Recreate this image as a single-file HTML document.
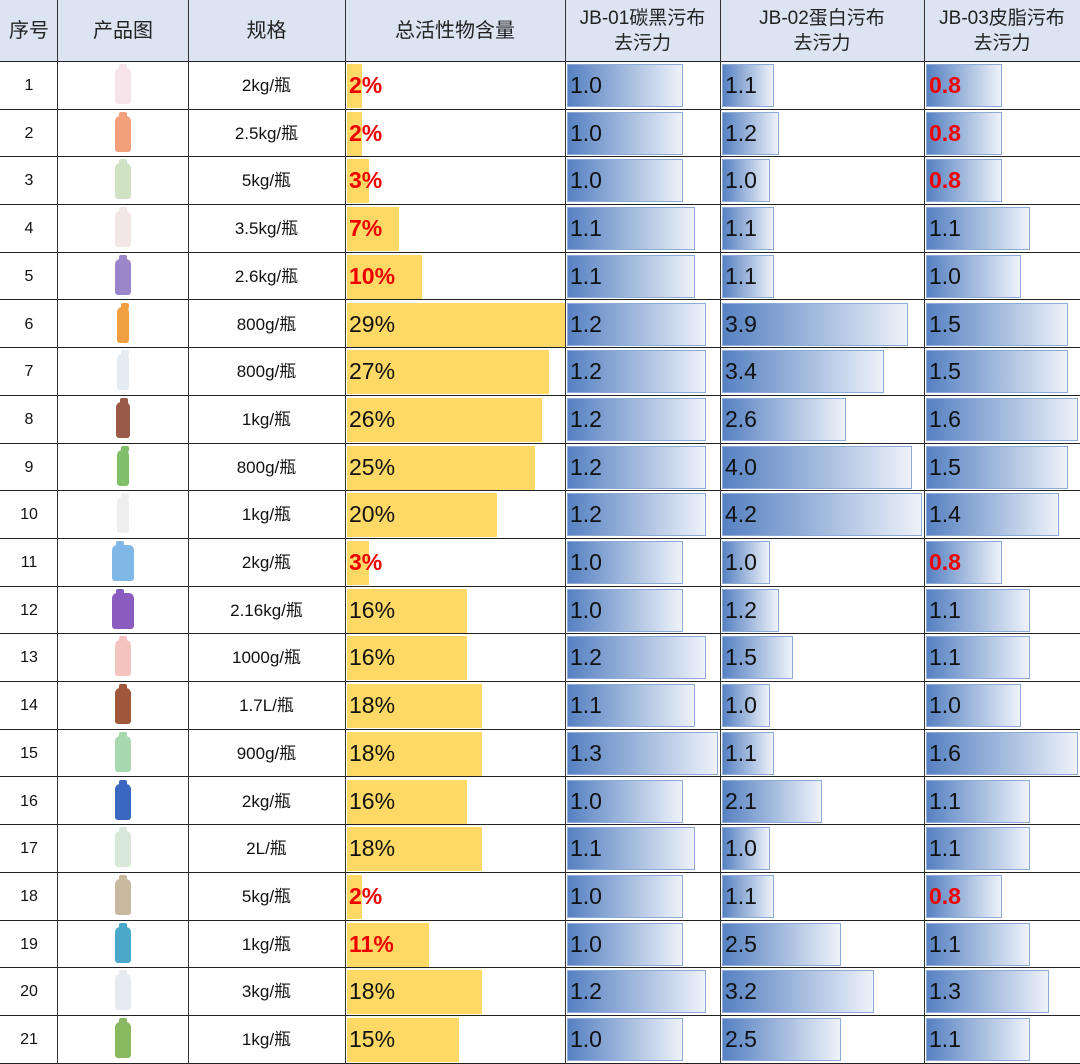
<!DOCTYPE html>
<html><head><meta charset="utf-8"><style>
*{margin:0;padding:0;box-sizing:border-box}
body{width:1080px;height:1064px;background:#fff;position:relative;overflow:hidden;font-family:"Liberation Sans","Noto Sans CJK SC",sans-serif;color:#111}
.h{position:absolute;top:0;height:62px;background:#dce4f2;border-bottom:1px solid #222;left:0;width:1080px}
.hc{position:absolute;top:0;height:62px;display:flex;align-items:center;justify-content:center;text-align:center;font-size:20px;line-height:24px;color:#222}
.hc span{display:block}
.hc.hs{font-size:19px;line-height:25px}
.v{position:absolute;top:0;height:1064px;width:1px;background:#333}
.r{position:absolute;left:0;width:1080px;height:47.7px;border-bottom:1px solid #222}
.r>div{position:absolute;top:0;height:100%}
.n{left:0;width:58px;text-align:center;font-size:16px;line-height:47px}
.s{left:188px;width:157px;text-align:center;font-size:17px;line-height:47px}
.bt{left:115px;top:6px!important;width:16px;height:36px!important;border-radius:5px 5px 3px 3px;}
.bt:before{content:"";position:absolute;left:4px;top:-4px;width:8px;height:6px;background:inherit;border-radius:2px}
.y{top:2px!important;height:44px!important;background:#ffd966}
.b{top:2px!important;height:43px!important;background:linear-gradient(to right,#5681c2,#a9bfe0 55%,#eef2f9);border:1px solid #8eaad6}
.t{top:0;font-size:23px;line-height:47px;color:#111}
.red{color:#e00;font-weight:bold}
</style></head><body>
<div class="h"></div>
<div class="hc" style="left:0;width:58px"><span>序号</span></div>
<div class="hc" style="left:58px;width:130px"><span>产品图</span></div>
<div class="hc" style="left:188px;width:157px"><span>规格</span></div>
<div class="hc" style="left:345px;width:220px"><span>总活性物含量</span></div>
<div class="hc hs" style="left:565px;width:155px"><span>JB-01碳黑污布<br>去污力</span></div>
<div class="hc hs" style="left:720px;width:204px"><span>JB-02蛋白污布<br>去污力</span></div>
<div class="hc hs" style="left:924px;width:156px"><span>JB-03皮脂污布<br>去污力</span></div>

<div class="r" style="top:62px"><div class="n">1</div><div class="bt" style="background:#f6e3ea"></div><div class="s">2kg/瓶</div><div class="y" style="left:347px;width:15px"></div><div class="t red" style="left:349px">2%</div><div class="b" style="left:567px;width:116px"></div><div class="t" style="left:570px">1.0</div><div class="b" style="left:722px;width:52px"></div><div class="t" style="left:725px">1.1</div><div class="b" style="left:926px;width:76px"></div><div class="t red" style="left:929px">0.8</div></div>
<div class="r" style="top:109.7px"><div class="n">2</div><div class="bt" style="background:#f2a07a"></div><div class="s">2.5kg/瓶</div><div class="y" style="left:347px;width:15px"></div><div class="t red" style="left:349px">2%</div><div class="b" style="left:567px;width:116px"></div><div class="t" style="left:570px">1.0</div><div class="b" style="left:722px;width:57px"></div><div class="t" style="left:725px">1.2</div><div class="b" style="left:926px;width:76px"></div><div class="t red" style="left:929px">0.8</div></div>
<div class="r" style="top:157.4px"><div class="n">3</div><div class="bt" style="background:#cfe3c4"></div><div class="s">5kg/瓶</div><div class="y" style="left:347px;width:22px"></div><div class="t red" style="left:349px">3%</div><div class="b" style="left:567px;width:116px"></div><div class="t" style="left:570px">1.0</div><div class="b" style="left:722px;width:48px"></div><div class="t" style="left:725px">1.0</div><div class="b" style="left:926px;width:76px"></div><div class="t red" style="left:929px">0.8</div></div>
<div class="r" style="top:205.1px"><div class="n">4</div><div class="bt" style="background:#f3e6e6"></div><div class="s">3.5kg/瓶</div><div class="y" style="left:347px;width:52px"></div><div class="t red" style="left:349px">7%</div><div class="b" style="left:567px;width:128px"></div><div class="t" style="left:570px">1.1</div><div class="b" style="left:722px;width:52px"></div><div class="t" style="left:725px">1.1</div><div class="b" style="left:926px;width:104px"></div><div class="t" style="left:929px">1.1</div></div>
<div class="r" style="top:252.8px"><div class="n">5</div><div class="bt" style="background:#9a86c8"></div><div class="s">2.6kg/瓶</div><div class="y" style="left:347px;width:75px"></div><div class="t red" style="left:349px">10%</div><div class="b" style="left:567px;width:128px"></div><div class="t" style="left:570px">1.1</div><div class="b" style="left:722px;width:52px"></div><div class="t" style="left:725px">1.1</div><div class="b" style="left:926px;width:95px"></div><div class="t" style="left:929px">1.0</div></div>
<div class="r" style="top:300.5px"><div class="n">6</div><div class="bt" style="background:#f0a040;width:12px;left:117px"></div><div class="s">800g/瓶</div><div class="y" style="left:347px;width:218px"></div><div class="t" style="left:349px">29%</div><div class="b" style="left:567px;width:139px"></div><div class="t" style="left:570px">1.2</div><div class="b" style="left:722px;width:186px"></div><div class="t" style="left:725px">3.9</div><div class="b" style="left:926px;width:142px"></div><div class="t" style="left:929px">1.5</div></div>
<div class="r" style="top:348.2px"><div class="n">7</div><div class="bt" style="background:#e4ecf2;width:12px;left:117px"></div><div class="s">800g/瓶</div><div class="y" style="left:347px;width:202px"></div><div class="t" style="left:349px">27%</div><div class="b" style="left:567px;width:139px"></div><div class="t" style="left:570px">1.2</div><div class="b" style="left:722px;width:162px"></div><div class="t" style="left:725px">3.4</div><div class="b" style="left:926px;width:142px"></div><div class="t" style="left:929px">1.5</div></div>
<div class="r" style="top:395.9px"><div class="n">8</div><div class="bt" style="background:#9a5a48;width:14px;left:116px"></div><div class="s">1kg/瓶</div><div class="y" style="left:347px;width:195px"></div><div class="t" style="left:349px">26%</div><div class="b" style="left:567px;width:139px"></div><div class="t" style="left:570px">1.2</div><div class="b" style="left:722px;width:124px"></div><div class="t" style="left:725px">2.6</div><div class="b" style="left:926px;width:152px"></div><div class="t" style="left:929px">1.6</div></div>
<div class="r" style="top:443.6px"><div class="n">9</div><div class="bt" style="background:#7fbf6a;width:12px;left:117px"></div><div class="s">800g/瓶</div><div class="y" style="left:347px;width:188px"></div><div class="t" style="left:349px">25%</div><div class="b" style="left:567px;width:139px"></div><div class="t" style="left:570px">1.2</div><div class="b" style="left:722px;width:190px"></div><div class="t" style="left:725px">4.0</div><div class="b" style="left:926px;width:142px"></div><div class="t" style="left:929px">1.5</div></div>
<div class="r" style="top:491.3px"><div class="n">10</div><div class="bt" style="background:#eeeeee;width:12px;left:117px"></div><div class="s">1kg/瓶</div><div class="y" style="left:347px;width:150px"></div><div class="t" style="left:349px">20%</div><div class="b" style="left:567px;width:139px"></div><div class="t" style="left:570px">1.2</div><div class="b" style="left:722px;width:200px"></div><div class="t" style="left:725px">4.2</div><div class="b" style="left:926px;width:133px"></div><div class="t" style="left:929px">1.4</div></div>
<div class="r" style="top:539px"><div class="n">11</div><div class="bt" style="background:#7fb8e6;width:22px;left:112px"></div><div class="s">2kg/瓶</div><div class="y" style="left:347px;width:22px"></div><div class="t red" style="left:349px">3%</div><div class="b" style="left:567px;width:116px"></div><div class="t" style="left:570px">1.0</div><div class="b" style="left:722px;width:48px"></div><div class="t" style="left:725px">1.0</div><div class="b" style="left:926px;width:76px"></div><div class="t red" style="left:929px">0.8</div></div>
<div class="r" style="top:586.7px"><div class="n">12</div><div class="bt" style="background:#8a5cc0;width:22px;left:112px"></div><div class="s">2.16kg/瓶</div><div class="y" style="left:347px;width:120px"></div><div class="t" style="left:349px">16%</div><div class="b" style="left:567px;width:116px"></div><div class="t" style="left:570px">1.0</div><div class="b" style="left:722px;width:57px"></div><div class="t" style="left:725px">1.2</div><div class="b" style="left:926px;width:104px"></div><div class="t" style="left:929px">1.1</div></div>
<div class="r" style="top:634.4px"><div class="n">13</div><div class="bt" style="background:#f4c4c0"></div><div class="s">1000g/瓶</div><div class="y" style="left:347px;width:120px"></div><div class="t" style="left:349px">16%</div><div class="b" style="left:567px;width:139px"></div><div class="t" style="left:570px">1.2</div><div class="b" style="left:722px;width:71px"></div><div class="t" style="left:725px">1.5</div><div class="b" style="left:926px;width:104px"></div><div class="t" style="left:929px">1.1</div></div>
<div class="r" style="top:682.1px"><div class="n">14</div><div class="bt" style="background:#a0583a"></div><div class="s">1.7L/瓶</div><div class="y" style="left:347px;width:135px"></div><div class="t" style="left:349px">18%</div><div class="b" style="left:567px;width:128px"></div><div class="t" style="left:570px">1.1</div><div class="b" style="left:722px;width:48px"></div><div class="t" style="left:725px">1.0</div><div class="b" style="left:926px;width:95px"></div><div class="t" style="left:929px">1.0</div></div>
<div class="r" style="top:729.8px"><div class="n">15</div><div class="bt" style="background:#a8d8b0"></div><div class="s">900g/瓶</div><div class="y" style="left:347px;width:135px"></div><div class="t" style="left:349px">18%</div><div class="b" style="left:567px;width:151px"></div><div class="t" style="left:570px">1.3</div><div class="b" style="left:722px;width:52px"></div><div class="t" style="left:725px">1.1</div><div class="b" style="left:926px;width:152px"></div><div class="t" style="left:929px">1.6</div></div>
<div class="r" style="top:777.5px"><div class="n">16</div><div class="bt" style="background:#3a68c0"></div><div class="s">2kg/瓶</div><div class="y" style="left:347px;width:120px"></div><div class="t" style="left:349px">16%</div><div class="b" style="left:567px;width:116px"></div><div class="t" style="left:570px">1.0</div><div class="b" style="left:722px;width:100px"></div><div class="t" style="left:725px">2.1</div><div class="b" style="left:926px;width:104px"></div><div class="t" style="left:929px">1.1</div></div>
<div class="r" style="top:825.2px"><div class="n">17</div><div class="bt" style="background:#d8e8d8"></div><div class="s">2L/瓶</div><div class="y" style="left:347px;width:135px"></div><div class="t" style="left:349px">18%</div><div class="b" style="left:567px;width:128px"></div><div class="t" style="left:570px">1.1</div><div class="b" style="left:722px;width:48px"></div><div class="t" style="left:725px">1.0</div><div class="b" style="left:926px;width:104px"></div><div class="t" style="left:929px">1.1</div></div>
<div class="r" style="top:872.9px"><div class="n">18</div><div class="bt" style="background:#c8b8a0"></div><div class="s">5kg/瓶</div><div class="y" style="left:347px;width:15px"></div><div class="t red" style="left:349px">2%</div><div class="b" style="left:567px;width:116px"></div><div class="t" style="left:570px">1.0</div><div class="b" style="left:722px;width:52px"></div><div class="t" style="left:725px">1.1</div><div class="b" style="left:926px;width:76px"></div><div class="t red" style="left:929px">0.8</div></div>
<div class="r" style="top:920.6px"><div class="n">19</div><div class="bt" style="background:#4aa8c8"></div><div class="s">1kg/瓶</div><div class="y" style="left:347px;width:82px"></div><div class="t red" style="left:349px">11%</div><div class="b" style="left:567px;width:116px"></div><div class="t" style="left:570px">1.0</div><div class="b" style="left:722px;width:119px"></div><div class="t" style="left:725px">2.5</div><div class="b" style="left:926px;width:104px"></div><div class="t" style="left:929px">1.1</div></div>
<div class="r" style="top:968.3px"><div class="n">20</div><div class="bt" style="background:#e8eaf2"></div><div class="s">3kg/瓶</div><div class="y" style="left:347px;width:135px"></div><div class="t" style="left:349px">18%</div><div class="b" style="left:567px;width:139px"></div><div class="t" style="left:570px">1.2</div><div class="b" style="left:722px;width:152px"></div><div class="t" style="left:725px">3.2</div><div class="b" style="left:926px;width:123px"></div><div class="t" style="left:929px">1.3</div></div>
<div class="r" style="top:1016px"><div class="n">21</div><div class="bt" style="background:#88b860"></div><div class="s">1kg/瓶</div><div class="y" style="left:347px;width:112px"></div><div class="t" style="left:349px">15%</div><div class="b" style="left:567px;width:116px"></div><div class="t" style="left:570px">1.0</div><div class="b" style="left:722px;width:119px"></div><div class="t" style="left:725px">2.5</div><div class="b" style="left:926px;width:104px"></div><div class="t" style="left:929px">1.1</div></div>

<div class="v" style="left:57px"></div>
<div class="v" style="left:188px"></div>
<div class="v" style="left:345px"></div>
<div class="v" style="left:565px"></div>
<div class="v" style="left:720px"></div>
<div class="v" style="left:924px"></div>
</body></html>
